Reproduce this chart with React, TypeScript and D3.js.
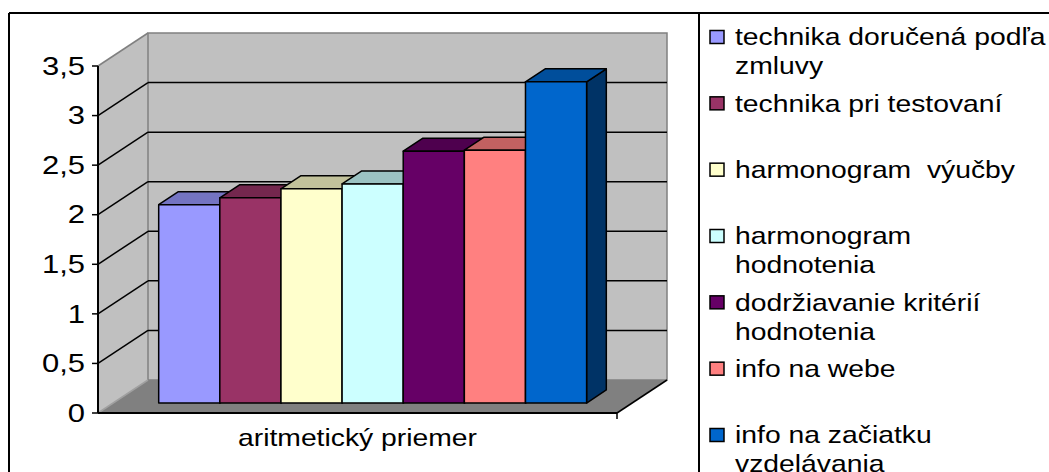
import * as d3 from "d3";

const series = [
  "technika doručená podľa zmluvy",
  "technika pri testovaní",
  "harmonogram  výučby",
  "harmonogram hodnotenia",
  "dodržiavanie kritérií hodnotenia",
  "info na webe",
  "info na začiatku vzdelávania",
];
const legendLines = [
  ["technika doručená podľa", "zmluvy"],
  ["technika pri testovaní"],
  ["harmonogram  výučby"],
  ["harmonogram", "hodnotenia"],
  ["dodržiavanie kritérií", "hodnotenia"],
  ["info na webe"],
  ["info na začiatku", "vzdelávania"],
];
const values = [2.0, 2.07, 2.16, 2.21, 2.54, 2.55, 3.24];
const colors = ["#9999FF", "#993366", "#FFFFCC", "#CCFFFF", "#660066", "#FF8080", "#0066CC"];
const category = "aritmetický priemer";
const yTicks = [0, 0.5, 1, 1.5, 2, 2.5, 3, 3.5];

const W = 1049;
const H = 472;
const FONT = "'Liberation Sans', Arial, sans-serif";
const FS = 24;
const SX = 1.18;

// 3d depth offset
const DX = 50;
const DY = 33;
const D1 = 0.303;
const D2 = 0.697;

const shade = (c: string, k: number) => {
  const r = d3.rgb(c);
  return d3.rgb(r.r * k, r.g * k, r.b * k).formatHex();
};

const pts = (p: number[][]) => p.map((q) => q.join(",")).join(" ");

export default function App() {
  const x = d3.scaleBand<string>().domain(series).range([98, 617]).paddingInner(0).paddingOuter(0.745);
  const y = d3.scaleLinear().domain([0, 3.5]).range([413, 66]);
  const legendY = d3.scalePoint<string>().domain(series).range([37, 435]);
  const fmt = (v: number) => d3.format("~g")(v).replace(".", ",");

  const x0 = x.range()[0];
  const x1 = x.range()[1];
  const yb = y(0);
  const yt = y(3.5);

  return (
    <svg width={W} height={H} style={{ position: "absolute", left: 0, top: 0, background: "#fff" }}
      fontFamily={FONT}>
      {/* left wall */}
      <polygon points={pts([[x0, yt], [x0 + DX, yt - DY], [x0 + DX, yb - DY], [x0, yb]])} fill="#C0C0C0" />
      {/* back wall */}
      <rect x={x0 + DX} y={yt - DY} width={x1 - x0} height={yb - yt} fill="#C0C0C0" stroke="#808080" strokeWidth={1.5} />
      {/* floor */}
      <polygon points={pts([[x0, yb], [x0 + DX, yb - DY], [x1 + DX, yb - DY], [x1, yb]])} fill="#808080" />
      <line x1={x0} y1={yt} x2={x0 + DX} y2={yt - DY} stroke="#808080" strokeWidth={1.5} />
      <line x1={x0} y1={yb} x2={x0 + DX} y2={yb - DY} stroke="#A0A0A0" strokeWidth={1.5} />

      {/* gridlines */}
      {yTicks.slice(1, -1).map((t) => (
        <g key={t}>
          <line x1={x0} y1={y(t)} x2={x0 + DX} y2={y(t) - DY} stroke="#000" strokeWidth={1.5} />
          <line x1={x0 + DX} y1={y(t) - DY} x2={x1 + DX} y2={y(t) - DY} stroke="#000" strokeWidth={1.5} />
        </g>
      ))}

      {/* bars */}
      {series.map((s, i) => {
        const bx0 = (x(s) as number) + DX * D1;
        const bx1 = bx0 + x.bandwidth();
        const top = y(values[i]) - DY * D1;
        const bot = yb - DY * D1;
        const dx = DX * (D2 - D1);
        const dy = DY * (D2 - D1);
        return (
          <g key={s} stroke="#000" strokeWidth={1.5} strokeLinejoin="round">
            <polygon points={pts([[bx1, top], [bx1 + dx, top - dy], [bx1 + dx, bot - dy], [bx1, bot]])}
              fill={shade(colors[i], 0.5)} />
            <polygon points={pts([[bx0, top], [bx1, top], [bx1 + dx, top - dy], [bx0 + dx, top - dy]])}
              fill={shade(colors[i], 0.76)} />
            <rect x={bx0} y={top} width={bx1 - bx0} height={bot - top} fill={colors[i]} />
          </g>
        );
      })}

      {/* axes */}
      <line x1={x0} y1={yb} x2={x1} y2={yb} stroke="#000" strokeWidth={2} />
      <line x1={x1} y1={yb} x2={x1 + DX} y2={yb - DY} stroke="#000" strokeWidth={1.5} />
      <line x1={x1} y1={yb} x2={x1} y2={yb + 6} stroke="#000" strokeWidth={1.5} />
      <line x1={x0} y1={yt} x2={x0} y2={yb} stroke="#000" strokeWidth={2} />
      {yTicks.map((t) => (
        <g key={t}>
          <line x1={x0 - 6} y1={y(t)} x2={x0} y2={y(t)} stroke="#000" strokeWidth={1.5} />
          <text transform={`translate(${x0 - 13},${y(t)}) scale(1.24,1)`} dy="0.35em" textAnchor="end"
            fontSize={25} fill="#000">{fmt(t)}</text>
        </g>
      ))}
      <text transform={`translate(${(x0 + x1) / 2},${446}) scale(${SX},1)`} textAnchor="middle"
        fontSize={FS} fill="#000">{category}</text>

      {/* legend */}
      {series.map((s, i) => {
        const cy = legendY(s) as number;
        return (
          <g key={s}>
            <rect x={710} y={cy - 6.5} width={14} height={13} fill={colors[i]} stroke="#000" strokeWidth={1.5} />
            {legendLines[i].map((ln, j) => (
              <text key={j} transform={`translate(735,${cy + j * 29}) scale(${SX},1)`} dy="0.35em"
                fontSize={FS} fill="#000" style={{ whiteSpace: "pre" }}>{ln}</text>
            ))}
          </g>
        );
      })}

      {/* frame */}
      <line x1={9} y1={13} x2={W} y2={13} stroke="#000" strokeWidth={2} />
      <line x1={9} y1={13} x2={9} y2={H} stroke="#000" strokeWidth={2} />
      <line x1={699} y1={13} x2={699} y2={H} stroke="#000" strokeWidth={2} />
    </svg>
  );
}
